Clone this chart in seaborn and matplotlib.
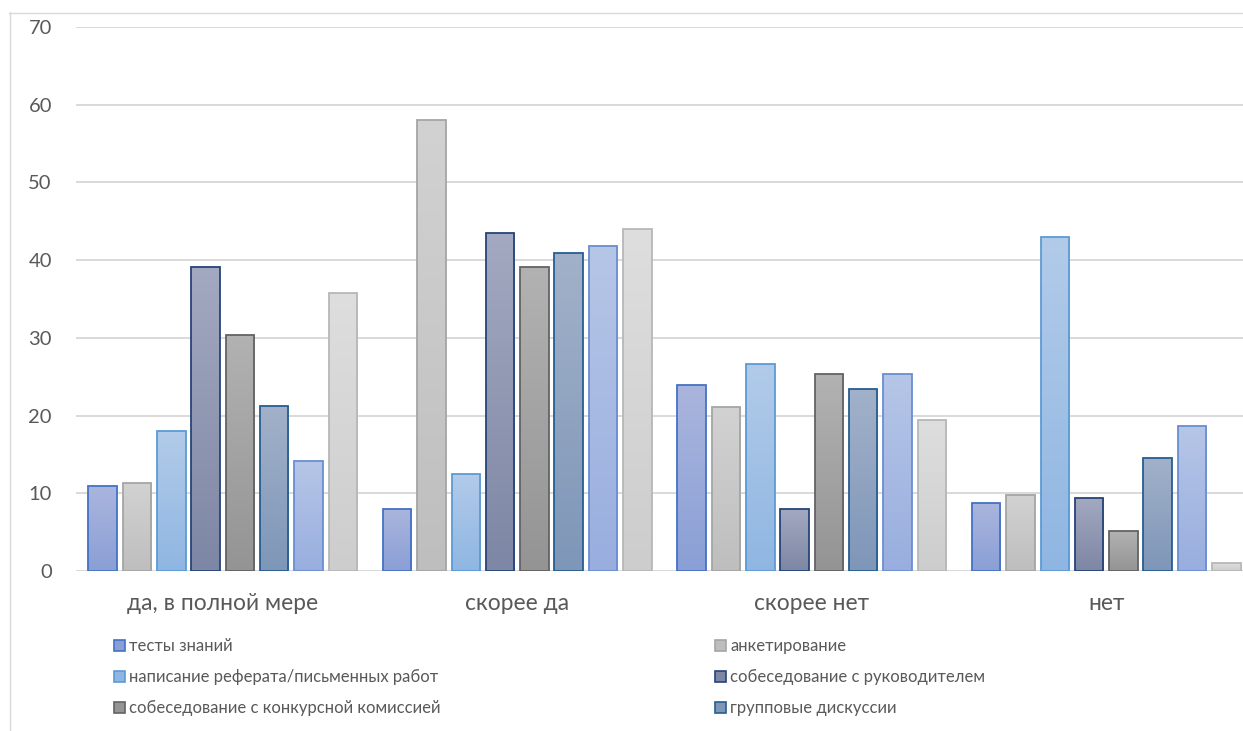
import numpy as np
import pandas as pd
import matplotlib
matplotlib.use("Agg")
import matplotlib.pyplot as plt
import seaborn as sns
from matplotlib.patches import Rectangle
from matplotlib.lines import Line2D
from matplotlib.colors import LinearSegmentedColormap

# --- data -------------------------------------------------------------
categories = ["да, в полной мере", "скорее да", "скорее нет", "нет"]
methods = [
    "тесты знаний",
    "анкетирование",
    "написание реферата/письменных работ",
    "собеседование с руководителем",
    "собеседование с конкурсной комиссией",
    "групповые дискуссии",
    "деловые игры",
    "другое",
]
tests_knowledge = [10.9, 8.0, 23.9, 8.7]
questionnaire = [11.3, 58.0, 21.1, 9.8]
essay_writing = [18.0, 12.5, 26.6, 43.0]
interview_manager = [39.1, 43.5, 8.0, 9.4]
interview_board = [30.4, 39.1, 25.4, 5.1]
group_discussion = [21.2, 40.9, 23.4, 14.6]
business_games = [14.2, 41.8, 25.4, 18.7]
other_methods = [35.8, 44.0, 19.4, 1.0]
y_ticks = [0, 10, 20, 30, 40, 50, 60, 70]

series_values = [tests_knowledge, questionnaire, essay_writing, interview_manager,
                 interview_board, group_discussion, business_games, other_methods]

# (top of gradient, bottom of gradient, outline)
styles = [
    ("#aab5dd", "#8a9fd6", "#4472c4"),
    ("#d2d2d2", "#bebebe", "#a5a5a5"),
    ("#b2cbe9", "#8fb6e2", "#5b9bd5"),
    ("#a3a9c0", "#7d86a4", "#264478"),
    ("#b2b2b2", "#949494", "#636363"),
    ("#a2b1c9", "#7e96b8", "#255e91"),
    ("#b6c6e7", "#99aedf", "#698ed0"),
    ("#dedede", "#cdcdcd", "#b7b7b7"),
]

df = pd.DataFrame({
    "category": [c for _ in methods for c in categories],
    "method": [m for m in methods for _ in categories],
    "value": [v for vals in series_values for v in vals],
})

# --- figure -----------------------------------------------------------
sns.set_theme(style="white")
plt.rcParams["font.family"] = ["Lato", "DejaVu Sans"]

W, H = 1243, 731
fig = plt.figure(figsize=(W / 100, H / 100), dpi=100)
fig.patch.set_facecolor("white")

# outer chart frame
fig.add_artist(Line2D([9.5 / W, 9.5 / W], [0, 1 - 12 / H], transform=fig.transFigure,
                      color="#d9d9d9", lw=1.0))
fig.add_artist(Line2D([9 / W, 1], [1 - 12.5 / H, 1 - 12.5 / H], transform=fig.transFigure,
                      color="#d9d9d9", lw=1.0))

ax_left, ax_right = 75.5, 1253.5
ax_bottom, ax_top = 571, 27
ax = fig.add_axes([ax_left / W, (H - ax_bottom) / H,
                   (ax_right - ax_left) / W, (ax_bottom - ax_top) / H])

palette = {m: s[1] for m, s in zip(methods, styles)}
sns.barplot(data=df, x="category", y="value", hue="method", order=categories,
            hue_order=methods, palette=palette, width=0.932, gap=0.17,
            errorbar=None, legend=False, ax=ax, zorder=3)

grad = np.linspace(0, 1, 256).reshape(-1, 1)
for cont, (top, bot, edge) in zip(ax.containers, styles):
    cmap = LinearSegmentedColormap.from_list("bar", [bot, top])
    for bar in cont:
        x0, y0 = bar.get_x(), bar.get_y()
        w, h = bar.get_width(), bar.get_height()
        im = ax.imshow(grad, cmap=cmap, origin="lower", aspect="auto",
                       extent=[x0, x0 + w, y0, y0 + h], zorder=2.9,
                       interpolation="bilinear")
        im.set_clip_path(bar)
        bar.set_facecolor("none")
        bar.set_edgecolor(edge)
        bar.set_linewidth(1.3)

ax.set_xlim(-0.5, 3.5)
ax.set_ylim(0, 70)
ax.set_yticks(y_ticks)
ax.yaxis.grid(True, color="#d9d9d9", lw=1.4, zorder=0)
ax.set_axisbelow(True)
for s in ax.spines.values():
    s.set_visible(False)
ax.set_xlabel("")
ax.set_ylabel("")
ax.tick_params(axis="y", length=0, pad=17, labelsize=14.5, labelcolor="#595959")
ax.tick_params(axis="x", length=0, pad=16, labelsize=16.4, labelcolor="#595959")
ax.set_facecolor("none")

# --- legend (two columns, three rows) ---------------------------------
col_x = [113.5, 715]
row_y = [645, 676, 707.5]
box = 11
for i, (m, (top, bot, edge)) in enumerate(zip(methods[:6], styles[:6])):
    cx = col_x[i % 2]
    cy = row_y[i // 2]
    fig.add_artist(Rectangle((cx / W, 1 - (cy + box / 2) / H), box / W, box / H,
                             transform=fig.transFigure, facecolor=bot,
                             edgecolor=edge, lw=1.2))
    fig.text((cx + box + 4.5) / W, 1 - (cy + 6) / H, m, ha="left", va="baseline",
             fontsize=12, color="#595959")

fig.savefig("out.png", dpi=100, facecolor="white")
